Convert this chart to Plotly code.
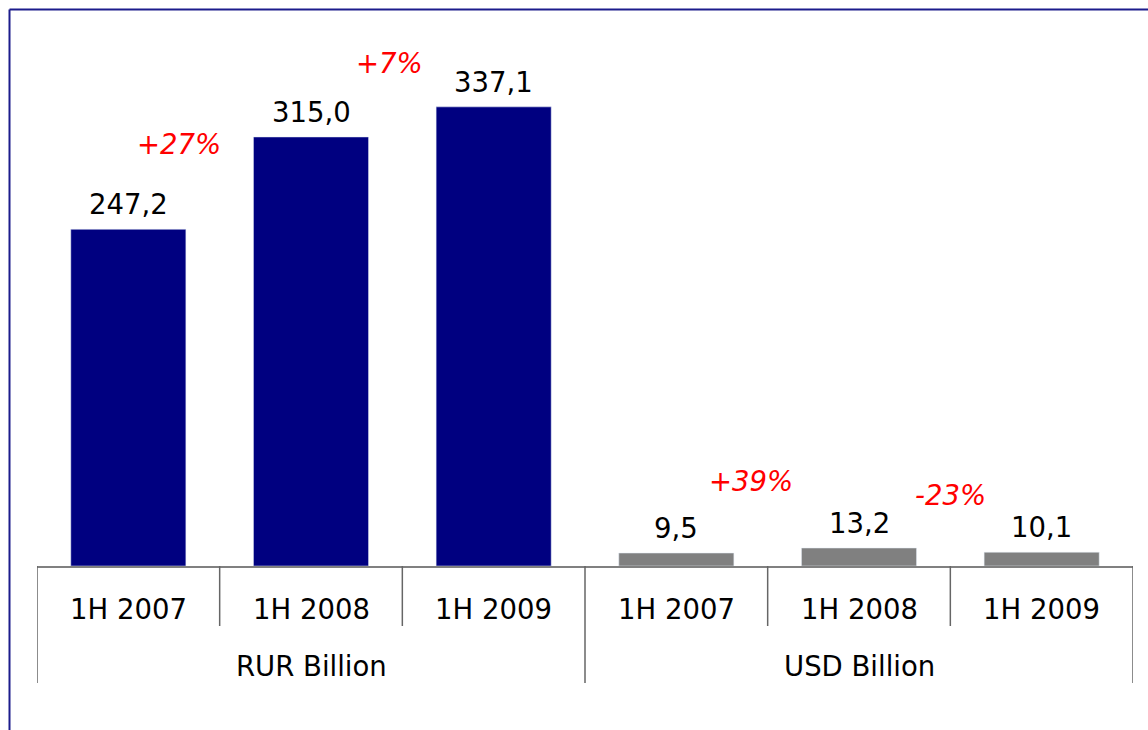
import plotly.graph_objects as go

# Half-year turnover in two currencies
groups = ["RUR Billion", "USD Billion"]
periods = ["1H 2007", "1H 2008", "1H 2009"]
rur_values = [247.2, 315.0, 337.1]
usd_values = [9.5, 13.2, 10.1]

# Where each period-over-period change label sits (x in category units, y in data units)
change_label_pos = [(0.28, 309.8), (1.43, 369.0), (3.41, 62.4), (4.50, 52.1)]

W, H = 1148, 730
M_L, M_R, M_T, M_B = 37, 15, 20, 164
PLOT_H = H - M_T - M_B
PX_PER_UNIT = 1.362
Y_MAX = PLOT_H / PX_PER_UNIT

FONT = "DejaVu Sans"
FS = 27.5


def py(pix):
    """Pixel row -> paper y."""
    return (H - M_B - pix) / PLOT_H


def fmt(v):
    return f"{v:.1f}".replace(".", ",")


n = len(periods)
x_rur = list(range(n))
x_usd = list(range(n, 2 * n))

fig = go.Figure()
fig.add_trace(go.Bar(x=x_rur, y=rur_values, marker_color="#000080",
                     width=0.63, hoverinfo="skip"))
fig.add_trace(go.Bar(x=x_usd, y=usd_values, marker_color="#808080",
                     width=0.63, hoverinfo="skip"))

annotations = []
shapes = []

# value labels above each bar
for xs, vals in ((x_rur, rur_values), (x_usd, usd_values)):
    for x, v in zip(xs, vals):
        annotations.append(dict(x=x, y=v, xref="x", yref="y", text=fmt(v),
                                showarrow=False, yanchor="middle", yshift=25,
                                font=dict(family=FONT, size=FS, color="#000000")))

# change labels between consecutive periods
changes = []
for vals in (rur_values, usd_values):
    for a, b in zip(vals[:-1], vals[1:]):
        changes.append(round((b / a - 1) * 100))
for (cx, cy), pct in zip(change_label_pos, changes):
    annotations.append(dict(x=cx, y=cy, xref="x", yref="y",
                            text=f"{pct:+d}%", showarrow=False, yanchor="middle",
                            font=dict(family=FONT, size=FS, color="#FF0000",
                                      style="italic")))

# period labels and group labels under the axis
for gi, g in enumerate(groups):
    for pi, p in enumerate(periods):
        annotations.append(dict(x=gi * n + pi, y=py(609), xref="x", yref="paper",
                                text=p, showarrow=False, yanchor="middle",
                                font=dict(family=FONT, size=FS, color="#000000")))
    annotations.append(dict(x=gi * n + (n - 1) / 2, y=py(665.5), xref="x",
                            yref="paper", text=g, showarrow=False,
                            yanchor="middle",
                            font=dict(family=FONT, size=FS, color="#000000")))

# separators between categories (long ones split the currency groups)
for k in range(2 * n + 1):
    xb = k - 0.5
    long_line = (k % n == 0)
    shapes.append(dict(type="line", xref="x", yref="paper", x0=xb, x1=xb,
                       y0=0, y1=py(683 if long_line else 626),
                       line=dict(color="#666666", width=1.5)))

# outer frame
shapes.append(dict(type="line", xref="paper", yref="paper",
                   x0=(9.5 - M_L) / (W - M_L - M_R), x1=1.2,
                   y0=py(9.5), y1=py(9.5),
                   line=dict(color="#1c1c8c", width=2)))
shapes.append(dict(type="line", xref="paper", yref="paper",
                   x0=(9.5 - M_L) / (W - M_L - M_R), x1=(9.5 - M_L) / (W - M_L - M_R),
                   y0=py(9.5), y1=py(760),
                   line=dict(color="#1c1c8c", width=2)))

fig.update_layout(
    width=W, height=H,
    margin=dict(l=M_L, r=M_R, t=M_T, b=M_B),
    paper_bgcolor="white", plot_bgcolor="white",
    showlegend=False, barmode="overlay",
    annotations=annotations, shapes=shapes,
    xaxis=dict(range=[-0.5, 2 * n - 0.5], showticklabels=False, ticks="",
               showgrid=False, zeroline=False, showline=True,
               linecolor="#808080", linewidth=1.5, fixedrange=True),
    yaxis=dict(range=[0, Y_MAX], visible=False, showgrid=False,
               zeroline=False, fixedrange=True),
)

fig.write_html("out.html", config={"displayModeBar": False})
